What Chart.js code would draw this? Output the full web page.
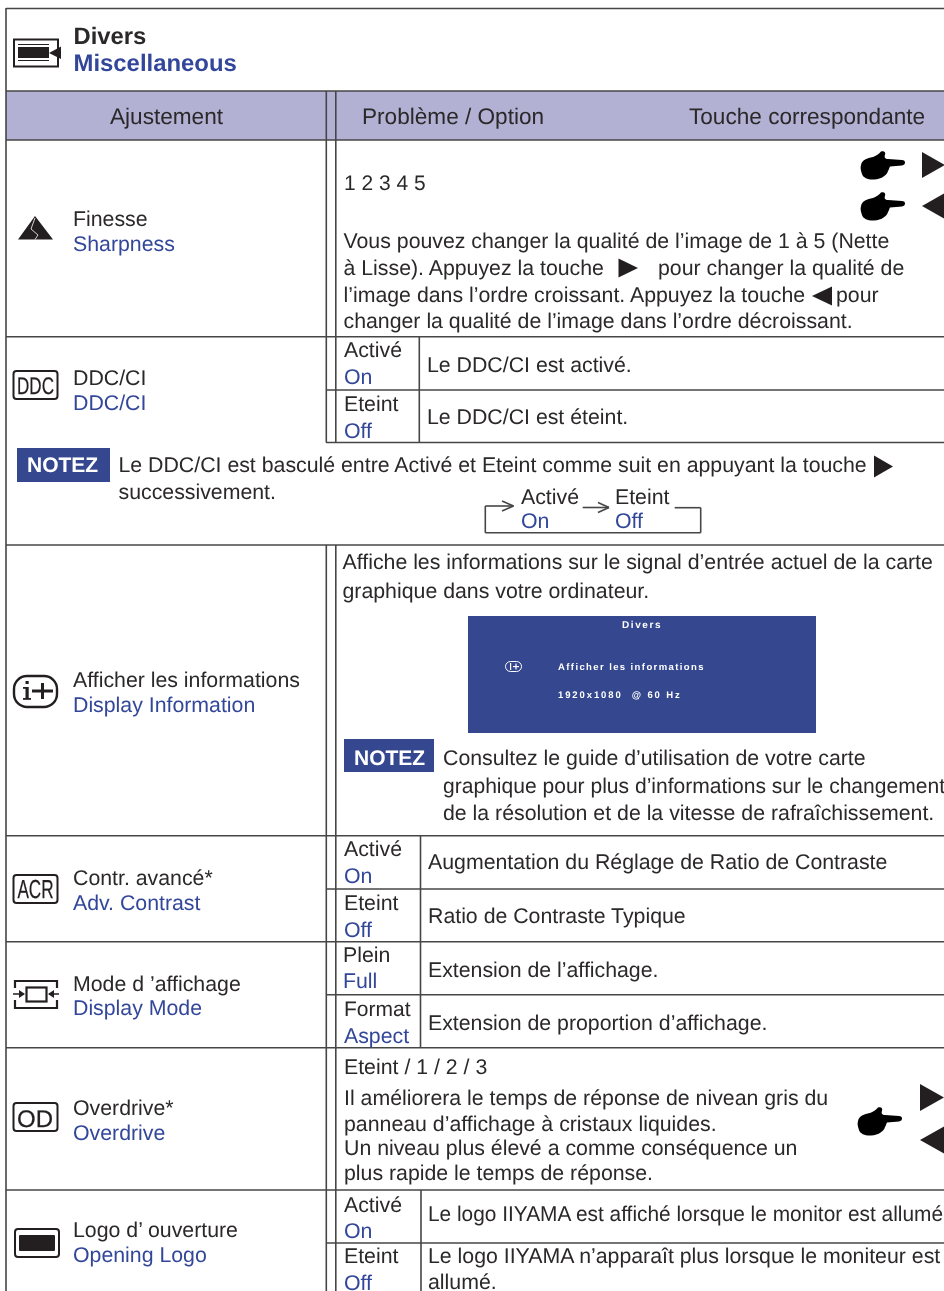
<!DOCTYPE html>
<html lang="fr"><head><meta charset="utf-8">
<style>html,body{margin:0;padding:0;background:#fff;overflow:hidden}canvas{display:block}</style>
<script src="https://cdn.jsdelivr.net/npm/chart.js@4/dist/chart.umd.min.js"></script>
</head><body><canvas id="page" width="944" height="1291"></canvas>
<script>
const INK='#2b2829', BLUE='#33479a', RULE='#464646', BAND='#b2b1d4', NAVY='#34478f', T=21.3;

// Rules of the table: [x1, y1, x2, y2]
const fullRules=[[6,8.5,944,8.5],[6,91,944,91],[6,140,944,140],[6,336.7,944,336.7],[6,545,944,545],[6,835.7,944,835.7],[6,941.7,944,941.7],[6,1047.7,944,1047.7],[6,1190,944,1190]];
const innerRules=[[326,390,944,390],[326,442.5,944,442.5],[326,889,944,889],[326,994.7,944,994.7],[326,1243,944,1243]];
const verticalRules=[[6,8,6,1291],[326.3,91,326.3,442.5],[335.8,91,335.8,442.5],[326.3,545,326.3,1291],[335.8,545,335.8,1291],[419.3,337,419.3,442.5],[420.5,836,420.5,1047.7],[421,1190,421,1291]];
const cycleRules=[[513.5,506,485.3,506],[485.3,506,485.3,532.7],[485.3,532.7,700.7,532.7],[700.7,532.7,700.7,507.7],[700.7,507.7,674.7,507.7],[582.7,507.5,609,507.5],[502,501,513.5,506],[502,511,513.5,506],[598,502.5,609,507.5],[598,512.5,609,507.5]];

// Filled areas: [x, y, w, h, colour]
const fills=[[6,91,938,49,BAND],[17,448,93,34,NAVY],[468,616,348,117,NAVY],[344,739,90,33,NAVY]];
// Triangles: [tip x, tip y, base x, half height]
const triangles=[[945,165,922,13],[922,206,945,13],[638,268,618.5,9.5],[812,296,832,9.5],[893,466.5,874,11],[944,1097.5,920,13.5],[920,1140,944,13.5]];
// Pointing hands: [x, y]
const hands=[[861,151],[861,192],[858,1107]];

// Text: [string, x, baseline, size, colour, bold, max width]
const heading=[['Divers',73.5,44,23.8,INK,1],['Miscellaneous',73.5,70.7,23.9,BLUE,1]];
const headerCells=[['Ajustement',110,124,22.6,INK],['Problème / Option',362,124,22.6,INK],['Touche correspondante',689,124,22.6,INK]];
const leftLabels=[
['Finesse',73,226,T,INK],['Sharpness',73,250.7,T,BLUE],
['DDC/CI',73,385,T,INK],['DDC/CI',73,410,T,BLUE],
['Afficher les informations',73,687,T,INK],['Display Information',73,712,T,BLUE],
['Contr. avancé*',73,885,T,INK],['Adv. Contrast',73,910,T,BLUE],
['Mode d ’affichage',73,991,T,INK],['Display Mode',73,1015,T,BLUE],
['Overdrive*',73,1115,T,INK],['Overdrive',73,1139.5,T,BLUE],
['Logo d’ ouverture',73,1237,T,INK],['Opening Logo',73,1262,T,BLUE]];
const optionLabels=[
['Activé',344,356.7,T,INK],['On',344,384,T,BLUE],['Eteint',344,410.7,T,INK],['Off',344,437.7,T,BLUE],
['Activé',344,856,T,INK],['On',344,883,T,BLUE],['Eteint',344,910,T,INK],['Off',344,936.7,T,BLUE],
['Plein',343,962.3,T,INK],['Full',343,987.7,T,BLUE],['Format',344,1016,21,INK],['Aspect',344,1043,T,BLUE],
['Activé',344,1212,T,INK],['On',344,1238,T,BLUE],['Eteint',344,1263,T,INK],['Off',344,1290,T,BLUE],
['Activé',521,504,T,INK],['On',521,527.7,T,BLUE],['Eteint',615,504,T,INK],['Off',615,527.7,T,BLUE]];
const bodyLines=[
['1 2 3 4 5',344,190,21,INK],
['Vous pouvez changer la qualité de l’image de 1 à 5 (Nette',343.5,248,T,INK],
['à Lisse). Appuyez la touche',343.5,275,T,INK],['pour changer la qualité de',658,275,T,INK],
['l’image dans l’ordre croissant. Appuyez la touche',343.5,301.7,T,INK],['pour',836,301.7,T,INK],
['changer la qualité de l’image dans l’ordre décroissant.',343.5,328.3,T,INK],
['Le DDC/CI est activé.',427,371.7,T,INK],['Le DDC/CI est éteint.',427,424,T,INK],
['Le DDC/CI est basculé entre Activé et Eteint comme suit en appuyant la touche',118.5,472.3,T,INK],
['successivement.',118.5,499,T,INK],
['Affiche les informations sur le signal d’entrée actuel de la carte',342.5,569,T,INK],
['graphique dans votre ordinateur.',342.5,598,T,INK],
['Consultez le guide d’utilisation de votre carte',443,765,T,INK],
['graphique pour plus d’informations sur le changement',443,793,T,INK,0,502],
['de la résolution et de la vitesse de rafraîchissement.',443,820,T,INK],
['Augmentation du Réglage de Ratio de Contraste',428,869,T,INK],['Ratio de Contraste Typique',428,923,T,INK],
['Extension de l’affichage.',428,977,T,INK],['Extension de proportion d’affichage.',428,1030,T,INK],
['Eteint / 1 / 2 / 3',344,1073.8,T,INK],
['Il améliorera le temps de réponse de nivean gris du',344,1105,T,INK],
['panneau d’affichage à cristaux liquides.',344,1131,T,INK],
['Un niveau plus élevé a comme conséquence un',344,1155,T,INK],
['plus rapide le temps de réponse.',344,1180,T,INK],
['Le logo IIYAMA est affiché lorsque le monitor est allumé',428,1221,T,INK,0,515],
['Le logo IIYAMA n’apparaît plus lorsque le moniteur est',428,1263,T,INK],
['allumé.',428,1289,T,INK]];
const noteTags=[['NOTEZ',27,472,21,'#fff',1],['NOTEZ',354,765,21,'#fff',1]];
const osdLines=[['Divers',622,628,10,'#fff',1,1.6],['Afficher les informations',558,670,9.5,'#fff',1,1.4],['1920x1080  @ 60 Hz',558,698,9.5,'#fff',1,1.9]];
// Word icons: [string, centre x, baseline, size, horizontal squeeze]
const iconWords=[['DDC',35.5,394,24,0.71],['ACR',35.5,898,26,0.66],['OD',35,1127,24,1]];

const allRules=[...fullRules,...innerRules,...verticalRules,...cycleRules];
const page={
  id:'page',
  beforeDatasetsDraw(c){
    const x=v=>c.scales.x.getPixelForValue(v), y=v=>c.scales.y.getPixelForValue(v), g=c.ctx;
    g.save();
    g.fillStyle='#fff';g.fillRect(0,0,c.width,c.height);
    fills.forEach(([a,b,w,h,col])=>{g.fillStyle=col;g.fillRect(x(a),y(b),x(a+w)-x(a),y(b+h)-y(b));});
    g.restore();
  },
  afterDatasetsDraw(c){
    const x=v=>c.scales.x.getPixelForValue(v), y=v=>c.scales.y.getPixelForValue(v), g=c.ctx;
    g.save();
    g.textRendering='geometricPrecision';
    g.fillStyle='#231f20';
    triangles.forEach(([tx,ty,bx,h])=>{g.beginPath();g.moveTo(x(tx),y(ty));g.lineTo(x(bx),y(ty-h));g.lineTo(x(bx),y(ty+h));g.closePath();g.fill();});
    hands.forEach(([hx,hy])=>{
      g.save();g.translate(x(hx),y(hy));g.fillStyle='#000';g.beginPath();
      g.moveTo(0,14);g.bezierCurveTo(1,9,6,7,12,6);g.bezierCurveTo(15,5,18,3,20,0.5);g.bezierCurveTo(23,-0.5,25,1,24,4);
      g.bezierCurveTo(23,6,24,8,27,8);g.lineTo(41,9);g.bezierCurveTo(45,9,45,14,41,14.5);g.lineTo(29,15.5);
      g.bezierCurveTo(28,17,28,19,27,20);g.bezierCurveTo(26,24,21,28,13,28.5);g.bezierCurveTo(8,29,2,27,1,23);g.bezierCurveTo(0,20,-1,17,0,14);
      g.closePath();g.fill();g.restore();
    });
    drawIcons(g,x,y);
    g.textBaseline='alphabetic';g.textAlign='left';
    [...heading,...headerCells,...leftLabels,...optionLabels,...bodyLines,...noteTags].forEach(([s,a,b,size,col,bold,mw])=>{
      g.font=(bold?'bold ':'')+size+'px "Liberation Sans", Arial, sans-serif';g.fillStyle=col;
      if(mw)g.fillText(s,x(a),y(b),mw);else g.fillText(s,x(a),y(b));
    });
    osdLines.forEach(([s,a,b,size,col,bold,sp])=>{
      g.letterSpacing=sp+'px';
      g.font=(bold?'bold ':'')+size+'px "Liberation Sans", Arial, sans-serif';g.fillStyle=col;g.fillText(s,x(a),y(b));
    });
    g.letterSpacing='0px';
    g.textAlign='center';g.fillStyle='#231f20';g.strokeStyle='#231f20';g.lineWidth=0.25;
    iconWords.forEach(([s,a,b,size,sq])=>{
      g.save();g.translate(x(a),y(b));g.scale(sq,1);
      g.font=size+'px "Liberation Sans", Arial, sans-serif';g.fillText(s,0,0);g.strokeText(s,0,0);g.restore();
    });
    g.restore();
  }
};
function rr(g,a,b,w,h,r){g.beginPath();g.roundRect(a,b,w,h,r);}
function drawIcons(g,x,y){
  g.strokeStyle='#231f20';g.fillStyle='#231f20';
  // header icon
  g.lineWidth=2;g.strokeRect(x(14),y(39.5),44,27);
  g.fillRect(x(18),y(47),31,11);g.lineWidth=1;
  g.beginPath();g.moveTo(x(18),y(44.5));g.lineTo(x(49),y(44.5));g.moveTo(x(18),y(60.5));g.lineTo(x(49),y(60.5));g.stroke();
  g.beginPath();g.moveTo(x(49),y(53));g.lineTo(x(61),y(46.5));g.lineTo(x(61),y(59));g.closePath();g.fill();
  // sharpness
  g.beginPath();g.moveTo(x(35),y(216));g.lineTo(x(53),y(239.5));g.lineTo(x(18),y(239.5));g.closePath();g.fill();
  g.strokeStyle='#fff';g.lineWidth=0.8;g.beginPath();g.moveTo(x(35),y(218));g.lineTo(x(31),y(229));g.lineTo(x(38),y(235));g.lineTo(x(35),y(239.5));g.stroke();
  g.strokeStyle='#231f20';g.lineWidth=2;
  // word icons
  [[13.5,371,44,28],[13.5,875,44,28],[13.5,1103,44,28]].forEach(([a,b,w,h])=>{rr(g,x(a),y(b),w,h,3);g.stroke();});
  // info icon
  rr(g,x(14),y(676),43,31,13);g.lineWidth=2.4;g.stroke();
  g.fillRect(x(25.5),y(687),3.2,12);g.fillRect(x(25.5),y(681),3.2,3);g.fillRect(x(23),y(687),3,1.8);g.fillRect(x(23),y(698),8,1.8);
  g.fillRect(x(32),y(689.5),21,3);g.fillRect(x(41),y(683),3,16);
  // display mode
  g.lineWidth=2.2;
  g.beginPath();g.moveTo(x(15),y(988));g.lineTo(x(15),y(981));g.lineTo(x(57),y(981));g.lineTo(x(57),y(988));
  g.moveTo(x(15),y(1000));g.lineTo(x(15),y(1008));g.lineTo(x(57),y(1008));g.lineTo(x(57),y(1000));g.stroke();
  g.strokeRect(x(26.5),y(987.5),20,14);g.lineWidth=1.3;
  g.beginPath();g.moveTo(x(13),y(994));g.lineTo(x(24),y(994));g.moveTo(x(49),y(994));g.lineTo(x(59),y(994));g.stroke();
  g.beginPath();g.moveTo(x(25),y(994));g.lineTo(x(19),y(990));g.lineTo(x(19),y(998));g.closePath();
  g.moveTo(x(48),y(994));g.lineTo(x(54),y(990));g.lineTo(x(54),y(998));g.closePath();g.fill();
  // logo
  g.lineWidth=2;rr(g,x(15),y(1229),44,28,3);g.stroke();
  rr(g,x(19),y(1235),36,16,1);g.fill();
  // OSD info icon
  g.strokeStyle='#fff';g.fillStyle='#fff';g.lineWidth=1;rr(g,x(505.5),y(661.5),16,10,5);g.stroke();
  g.fillRect(x(510),y(663),1.2,7);g.fillRect(x(513),y(666),6,1.2);g.fillRect(x(515.4),y(663.5),1.2,6);
}

new Chart(document.getElementById('page'),{
  type:'scatter',
  data:{datasets:allRules.map(([a,b,c,d])=>({
    data:[{x:a,y:b},{x:c,y:d}],showLine:true,borderColor:RULE,borderWidth:1.6,pointRadius:0,fill:false,tension:0
  }))},
  options:{
    responsive:false,animation:false,events:[],
    layout:{padding:0},
    plugins:{legend:{display:false},tooltip:{enabled:false},title:{display:false}},
    scales:{
      x:{type:'linear',min:0,max:944,display:false},
      y:{type:'linear',min:0,max:1291,reverse:true,display:false}
    }
  },
  plugins:[page]
});
</script></body></html>
